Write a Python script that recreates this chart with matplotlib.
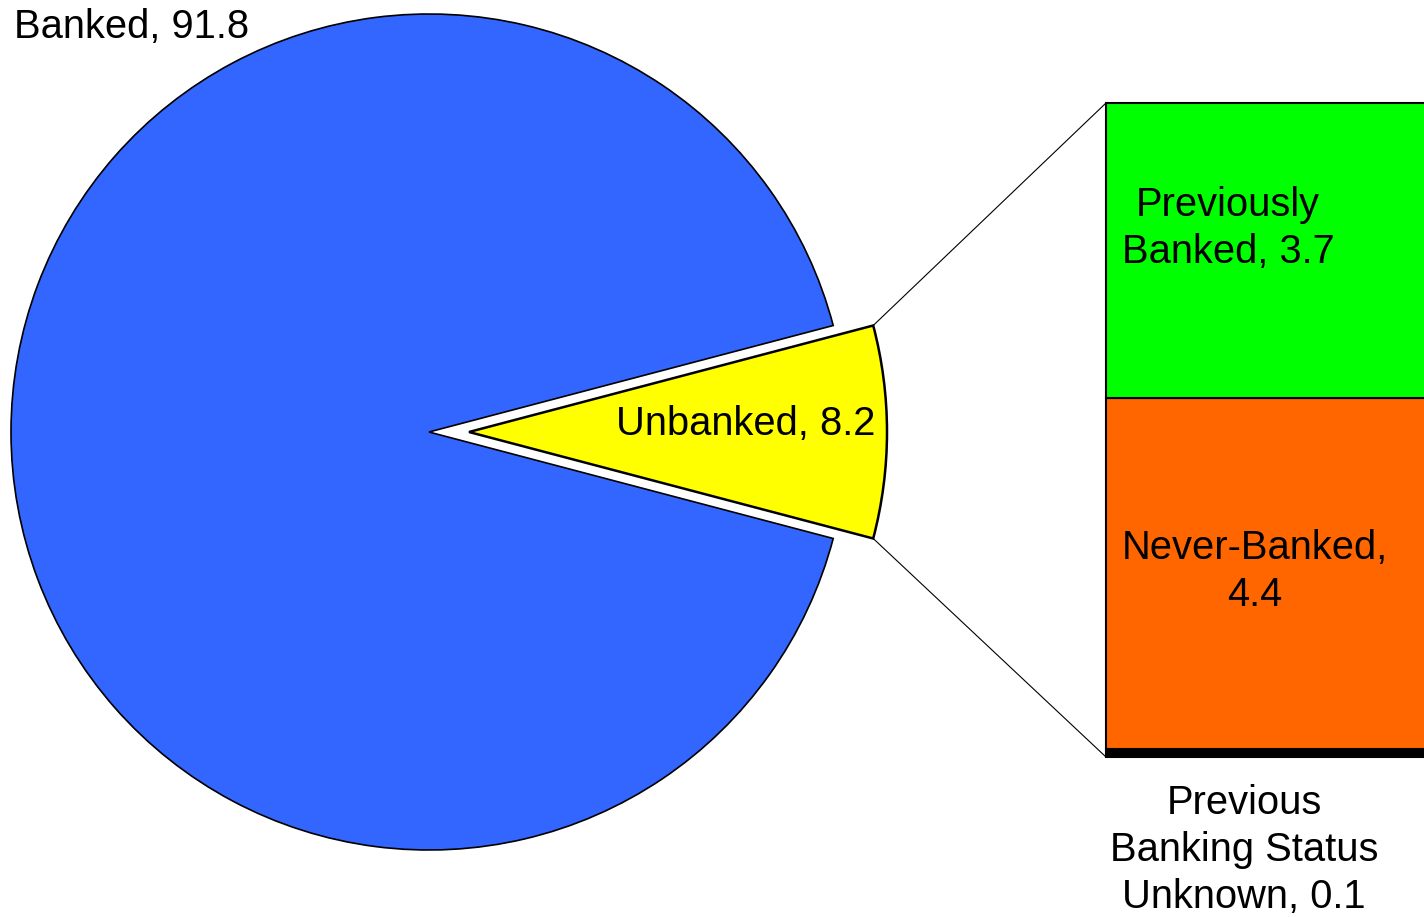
import numpy as np
import matplotlib
matplotlib.use("Agg")
import matplotlib.pyplot as plt
from matplotlib.patches import ConnectionPatch

plt.rcParams["font.family"] = ["Liberation Sans", "DejaVu Sans"]

# banking status shares (%)
pie_labels = ["Unbanked", "Banked"]
pie_values = [8.2, 91.8]
pie_colors = ["#FFFF00", "#3366FF"]

# breakdown of the unbanked slice, bottom to top
bar_labels = ["Previous\nBanking Status\nUnknown", "Never-Banked,\n", "Previously\nBanked,"]
bar_values = [0.1, 4.4, 3.7]
bar_colors = ["#000000", "#FF6600", "#00FF00"]

W, H = 1424, 917
fig = plt.figure(figsize=(W / 100, H / 100), dpi=100)

# stacked bar for the unbanked breakdown (behind the main axes)
bx0, bx1 = 1106, 1424 + 200
btop, bbot = 103, 757
bax = fig.add_axes([bx0 / W, (H - bbot) / H, (bx1 - bx0) / W, (bbot - btop) / H])
bax.set_zorder(0)
bax.set_xlim(0, 1)
bax.set_ylim(0, sum(bar_values))
bax.axis("off")
bottoms = np.concatenate([[0], np.cumsum(bar_values)[:-1]])
for v, b, c in zip(bar_values, bottoms, bar_colors):
    bax.bar([0.5], [v], bottom=b, width=1, color=c, edgecolor="black",
            linewidth=1.5, clip_on=False)

ax = fig.add_axes([0, 0, 1, 1])
ax.set_zorder(1)
ax.axis("off")

cx, cy, r = 429, 485, 418
explode_dist = 40
half = pie_values[0] / 100 * 360 / 2
wedges, _ = ax.pie(pie_values, colors=pie_colors, startangle=-half,
                   explode=[explode_dist, 0], center=(cx, cy), radius=r,
                   wedgeprops=dict(edgecolor="black", linewidth=1.2))
wedges[0].set_linewidth(1.8)
ax.set_xlim(0, W)
ax.set_ylim(0, H)
ax.set_aspect("equal")

fs = 28.7
ax.text(14, H - 27, f"Banked, {pie_values[1]}", fontsize=fs, ha="left", va="center")
ax.text(746, H - 424, f"Unbanked, {pie_values[0]}", fontsize=fs, ha="center", va="center")

ax.text(1228, H - 228, f"Previously\nBanked, {bar_values[2]}", fontsize=fs,
        ha="center", va="center", linespacing=1.3)
ax.text(1255, H - 572, f"Never-Banked,\n{bar_values[1]}", fontsize=fs,
        ha="center", va="center", linespacing=1.3)
ax.text(1244, H - 850, f"Previous\nBanking Status\nUnknown, {bar_values[0]}",
        fontsize=fs, ha="center", va="center", linespacing=1.3)

# connector lines from the exploded slice to the bar corners
ox = cx + explode_dist
for ang, ycorner in [(half, sum(bar_values)), (-half, 0)]:
    px = ox + r * np.cos(np.radians(ang))
    py = cy + r * np.sin(np.radians(ang))
    con = ConnectionPatch(xyA=(px, py), coordsA=ax.transData,
                          xyB=(0, ycorner), coordsB=bax.transData,
                          color="black", linewidth=0.8)
    fig.add_artist(con)

fig.savefig("out.png", dpi=100)
